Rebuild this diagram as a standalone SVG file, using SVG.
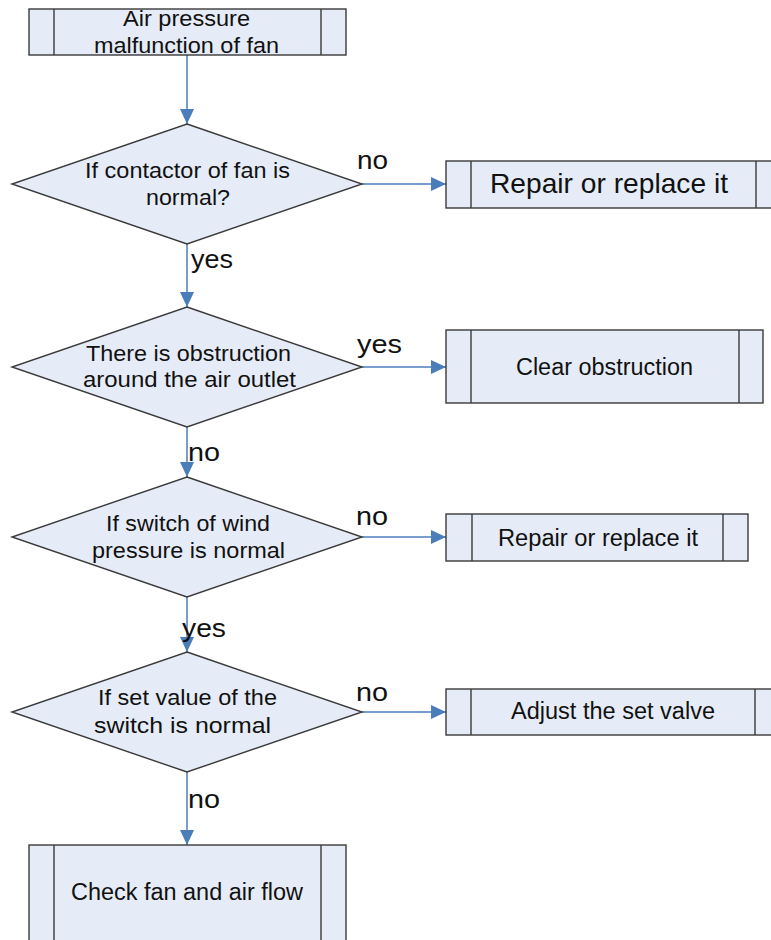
<svg xmlns="http://www.w3.org/2000/svg" width="771" height="940" viewBox="0 0 771 940">
<style>
.shape{fill:#e6ecf7;stroke:#3a3a3a;stroke-width:1.4}
.sep{stroke:#3a3a3a;stroke-width:1.4;fill:none}
.t{font-family:"Liberation Sans",Arial,sans-serif;fill:#111}
.d{font-size:22px}
.b{font-size:23px}
.lbl{font-size:26px}
.conn{stroke:#4a7ebb;stroke-width:1.5;fill:none;marker-end:url(#arr)}
</style>
<defs>
<marker id="arr" viewBox="0 0 15 14" refX="15" refY="7" markerWidth="15" markerHeight="14" markerUnits="userSpaceOnUse" orient="auto">
<path d="M0,0 L15,7 L0,14 z" fill="#4a7ebb"/>
</marker>
</defs>
<rect width="771" height="940" fill="#ffffff"/>

<g id="connectors">
<line class="conn" x1="187" y1="55" x2="187" y2="124"/>
<line class="conn" x1="362" y1="184" x2="446" y2="184"/>
<line class="conn" x1="187" y1="244" x2="187" y2="307"/>
<line class="conn" x1="362" y1="367" x2="446" y2="367"/>
<line class="conn" x1="187" y1="427" x2="187" y2="477"/>
<line class="conn" x1="362" y1="537" x2="446" y2="537"/>
<line class="conn" x1="187" y1="597" x2="187" y2="652"/>
<line class="conn" x1="362" y1="712" x2="446" y2="712"/>
<line class="conn" x1="187" y1="772" x2="187" y2="845"/>
<text class="t lbl" x="357" y="169" textLength="31" lengthAdjust="spacingAndGlyphs">no</text>
<text class="t lbl" x="191" y="268" textLength="42" lengthAdjust="spacingAndGlyphs">yes</text>
<text class="t lbl" x="357" y="353" textLength="45" lengthAdjust="spacingAndGlyphs">yes</text>
<text class="t lbl" x="188" y="461" textLength="32" lengthAdjust="spacingAndGlyphs">no</text>
<text class="t lbl" x="356" y="525" textLength="32" lengthAdjust="spacingAndGlyphs">no</text>
<text class="t lbl" x="182" y="637" textLength="44" lengthAdjust="spacingAndGlyphs">yes</text>
<text class="t lbl" x="356" y="701" textLength="32" lengthAdjust="spacingAndGlyphs">no</text>
<text class="t lbl" x="188" y="808" textLength="32" lengthAdjust="spacingAndGlyphs">no</text>
</g>

<g id="start">
<rect class="shape" x="29" y="9" width="317" height="46"/>
<line class="sep" x1="54" y1="9" x2="54" y2="55"/>
<line class="sep" x1="321" y1="9" x2="321" y2="55"/>
<text class="t d" x="123" y="26" textLength="127" lengthAdjust="spacingAndGlyphs">Air pressure</text>
<text class="t d" x="94" y="53" textLength="185" lengthAdjust="spacingAndGlyphs">malfunction of fan</text>
</g>

<g id="dec1">
<polygon class="shape" points="187,124 362,184 187,244 12,184"/>
<text class="t d" x="85" y="178" textLength="205" lengthAdjust="spacingAndGlyphs">If contactor of fan is</text>
<text class="t d" x="146" y="205" textLength="84" lengthAdjust="spacingAndGlyphs">normal?</text>
</g>

<g id="act1">
<rect class="shape" x="446" y="161" width="340" height="47"/>
<line class="sep" x1="471" y1="161" x2="471" y2="208"/>
<line class="sep" x1="756" y1="161" x2="756" y2="208"/>
<text class="t" style="font-size:28px" x="490" y="193" textLength="238" lengthAdjust="spacingAndGlyphs">Repair or replace it</text>
</g>

<g id="dec2">
<polygon class="shape" points="187,307 362,367 187,427 12,367"/>
<text class="t d" x="86" y="361" textLength="205" lengthAdjust="spacingAndGlyphs">There is obstruction</text>
<text class="t d" x="83" y="387" textLength="213" lengthAdjust="spacingAndGlyphs">around the air outlet</text>
</g>

<g id="act2">
<rect class="shape" x="446" y="330" width="317" height="73"/>
<line class="sep" x1="471" y1="330" x2="471" y2="403"/>
<line class="sep" x1="739" y1="330" x2="739" y2="403"/>
<text class="t b" x="516" y="375" textLength="177" lengthAdjust="spacingAndGlyphs">Clear obstruction</text>
</g>

<g id="dec3">
<polygon class="shape" points="187,477 362,537 187,597 12,537"/>
<text class="t d" x="106" y="531" textLength="164" lengthAdjust="spacingAndGlyphs">If switch of wind</text>
<text class="t d" x="92" y="558" textLength="193" lengthAdjust="spacingAndGlyphs">pressure is normal</text>
</g>

<g id="act3">
<rect class="shape" x="446" y="514" width="302" height="47"/>
<line class="sep" x1="472" y1="514" x2="472" y2="561"/>
<line class="sep" x1="723" y1="514" x2="723" y2="561"/>
<text class="t b" x="498" y="546" textLength="200" lengthAdjust="spacingAndGlyphs">Repair or replace it</text>
</g>

<g id="dec4">
<polygon class="shape" points="187,652 362,712 187,772 12,712"/>
<text class="t d" x="98" y="705" textLength="179" lengthAdjust="spacingAndGlyphs">If set value of the</text>
<text class="t d" x="94" y="733" textLength="177" lengthAdjust="spacingAndGlyphs">switch is normal</text>
</g>

<g id="act4">
<rect class="shape" x="446" y="689" width="340" height="46"/>
<line class="sep" x1="471" y1="689" x2="471" y2="735"/>
<line class="sep" x1="755" y1="689" x2="755" y2="735"/>
<text class="t b" x="511" y="719" textLength="204" lengthAdjust="spacingAndGlyphs">Adjust the set valve</text>
</g>

<g id="end">
<rect class="shape" x="29" y="845" width="317" height="110"/>
<line class="sep" x1="54" y1="845" x2="54" y2="955"/>
<line class="sep" x1="321" y1="845" x2="321" y2="955"/>
<text class="t b" x="71" y="900" textLength="232" lengthAdjust="spacingAndGlyphs">Check fan and air flow</text>
</g>
</svg>
